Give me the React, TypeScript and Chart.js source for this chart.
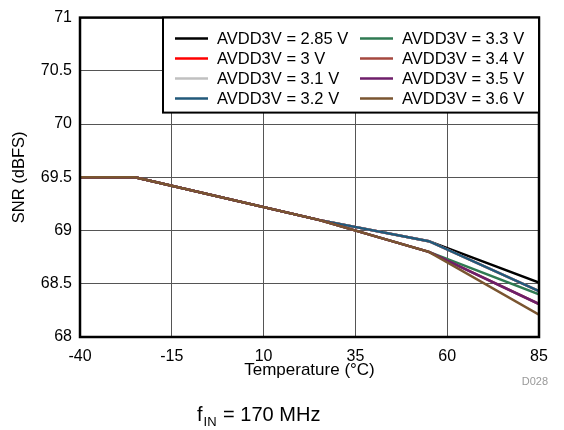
import React, { useEffect, useRef } from "react";
import { Chart, registerables } from "chart.js";

Chart.register(...registerables);

const temps = [-40, -25, 25, 55, 85];
const labels = ["AVDD3V = 2.85 V", "AVDD3V = 3 V", "AVDD3V = 3.1 V", "AVDD3V = 3.2 V", "AVDD3V = 3.3 V", "AVDD3V = 3.4 V", "AVDD3V = 3.5 V", "AVDD3V = 3.6 V"];
const colors = ["#000000", "#ff0000", "#c0c0c0", "#22597a", "#2f7a52", "#a5483f", "#6e1e6a", "#7a5530"];
const snr285 = [69.5, 69.5, 69.1, 68.9, 68.51];
const snr30 = [69.5, 69.5, 69.1, 68.9, 68.43];
const snr31 = [69.5, 69.5, 69.1, 68.9, 68.43];
const snr32 = [69.5, 69.5, 69.1, 68.9, 68.43];
const snr33 = [69.5, 69.5, 69.1, 68.8, 68.4];
const snr34 = [69.5, 69.5, 69.1, 68.8, 68.31];
const snr35 = [69.5, 69.5, 69.1, 68.8, 68.31];
const snr36 = [69.5, 69.5, 69.1, 68.8, 68.21];
const series = [snr285, snr30, snr31, snr32, snr33, snr34, snr35, snr36];
const xTicks = [-40, -15, 10, 35, 60, 85];

const FONT = "'Liberation Sans', Arial, Helvetica, sans-serif";

const overlay = {
  id: "overlay",
  afterDatasetsDraw(chart: any) {
    const { ctx, chartArea } = chart;
    const { left, right, top, bottom } = chartArea;
    ctx.save();
    // plot frame
    ctx.strokeStyle = "#000";
    ctx.lineWidth = 2.5;
    ctx.strokeRect(left, top, right - left, bottom - top);
    // legend box
    const lx = left + 83;
    const lb = top + 95;
    ctx.fillStyle = "#fff";
    ctx.fillRect(lx, top, right - lx, lb - top);
    ctx.lineWidth = 2;
    ctx.strokeRect(lx, top, right - lx, lb - top);
    ctx.font = `16.5px ${FONT}`;
    ctx.textBaseline = "middle";
    ctx.textAlign = "left";
    for (let i = 0; i < labels.length; i++) {
      const col = Math.floor(i / 4);
      const row = i % 4;
      const x0 = lx + 12 + col * 185;
      const y = top + 21 + row * 20;
      ctx.strokeStyle = colors[i];
      ctx.lineWidth = 2.5;
      ctx.beginPath();
      ctx.moveTo(x0, y);
      ctx.lineTo(x0 + 33, y);
      ctx.stroke();
      ctx.fillStyle = "#000";
      ctx.fillText(labels[i], x0 + 42, y + 1);
    }
    // axis titles
    ctx.fillStyle = "#000";
    ctx.font = `17px ${FONT}`;
    ctx.textAlign = "center";
    ctx.textBaseline = "alphabetic";
    ctx.fillText("Temperature (°C)", (left + right) / 2, 375);
    ctx.save();
    ctx.translate(24, (top + bottom) / 2);
    ctx.rotate(-Math.PI / 2);
    ctx.font = `16.5px ${FONT}`;
    ctx.textBaseline = "alphabetic";
    ctx.fillText("SNR (dBFS)", 0, 0);
    ctx.restore();
    // D028
    ctx.fillStyle = "#999";
    ctx.font = `11px ${FONT}`;
    ctx.textAlign = "right";
    ctx.fillText("D028", 548, 385);
    // f_IN
    ctx.fillStyle = "#000";
    ctx.textAlign = "left";
    ctx.font = `20px ${FONT}`;
    const fx = 197;
    ctx.fillText("f", fx, 421);
    const fw = ctx.measureText("f").width;
    ctx.font = `13px ${FONT}`;
    ctx.fillText("IN", fx + fw + 1, 426);
    const inw = ctx.measureText("IN").width;
    ctx.font = `20px ${FONT}`;
    ctx.fillText(" = 170 MHz", fx + fw + 1 + inw + 1, 421);
    ctx.restore();
  },
};

export default function App() {
  const ref = useRef<HTMLCanvasElement>(null);
  useEffect(() => {
    if (!ref.current) return;
    const chart = new Chart(ref.current, {
      type: "line",
      data: {
        datasets: series.map((s, i) => ({
          label: labels[i],
          data: s.map((v, j) => ({ x: temps[j], y: v })),
          borderColor: colors[i],
          backgroundColor: colors[i],
          borderWidth: 2.5,
          pointRadius: 0,
          tension: 0,
          fill: false,
          order: series.length - i,
        })),
      },
      options: {
        animation: false,
        responsive: false,
        maintainAspectRatio: false,
        layout: { padding: { top: 12, right: 25, left: 0, bottom: 0 } },
        plugins: { legend: { display: false }, tooltip: { enabled: false } },
        scales: {
          x: {
            type: "linear",
            min: -40,
            max: 85,
            afterBuildTicks: (scale: any) => {
              scale.ticks = xTicks.map((v) => ({ value: v }));
            },
            afterFit: (scale: any) => {
              scale.height = 93;
            },
            grid: { color: "#555", lineWidth: 1, drawTicks: false },
            border: { display: false },
            ticks: {
              color: "#000",
              font: { family: FONT, size: 16 },
              padding: 10,
              maxRotation: 0,
              autoSkip: false,
              callback: (v: any) => String(v),
            },
          },
          y: {
            min: 68,
            max: 71,
            afterFit: (scale: any) => {
              scale.width = 80;
            },
            grid: { color: "#555", lineWidth: 1, drawTicks: false },
            border: { display: false },
            ticks: {
              stepSize: 0.5,
              color: "#000",
              font: { family: FONT, size: 16 },
              padding: 8,
              callback: (v: any) => String(Math.round(Number(v) * 10) / 10),
            },
          },
        },
      },
      plugins: [overlay],
    });
    return () => chart.destroy();
  }, []);
  return (
    <div style={{ position: "fixed", left: 0, top: 0, width: 564, height: 430, background: "#fff" }}>
      <canvas ref={ref} width={564} height={430} style={{ width: 564, height: 430, display: "block" }} />
    </div>
  );
}
